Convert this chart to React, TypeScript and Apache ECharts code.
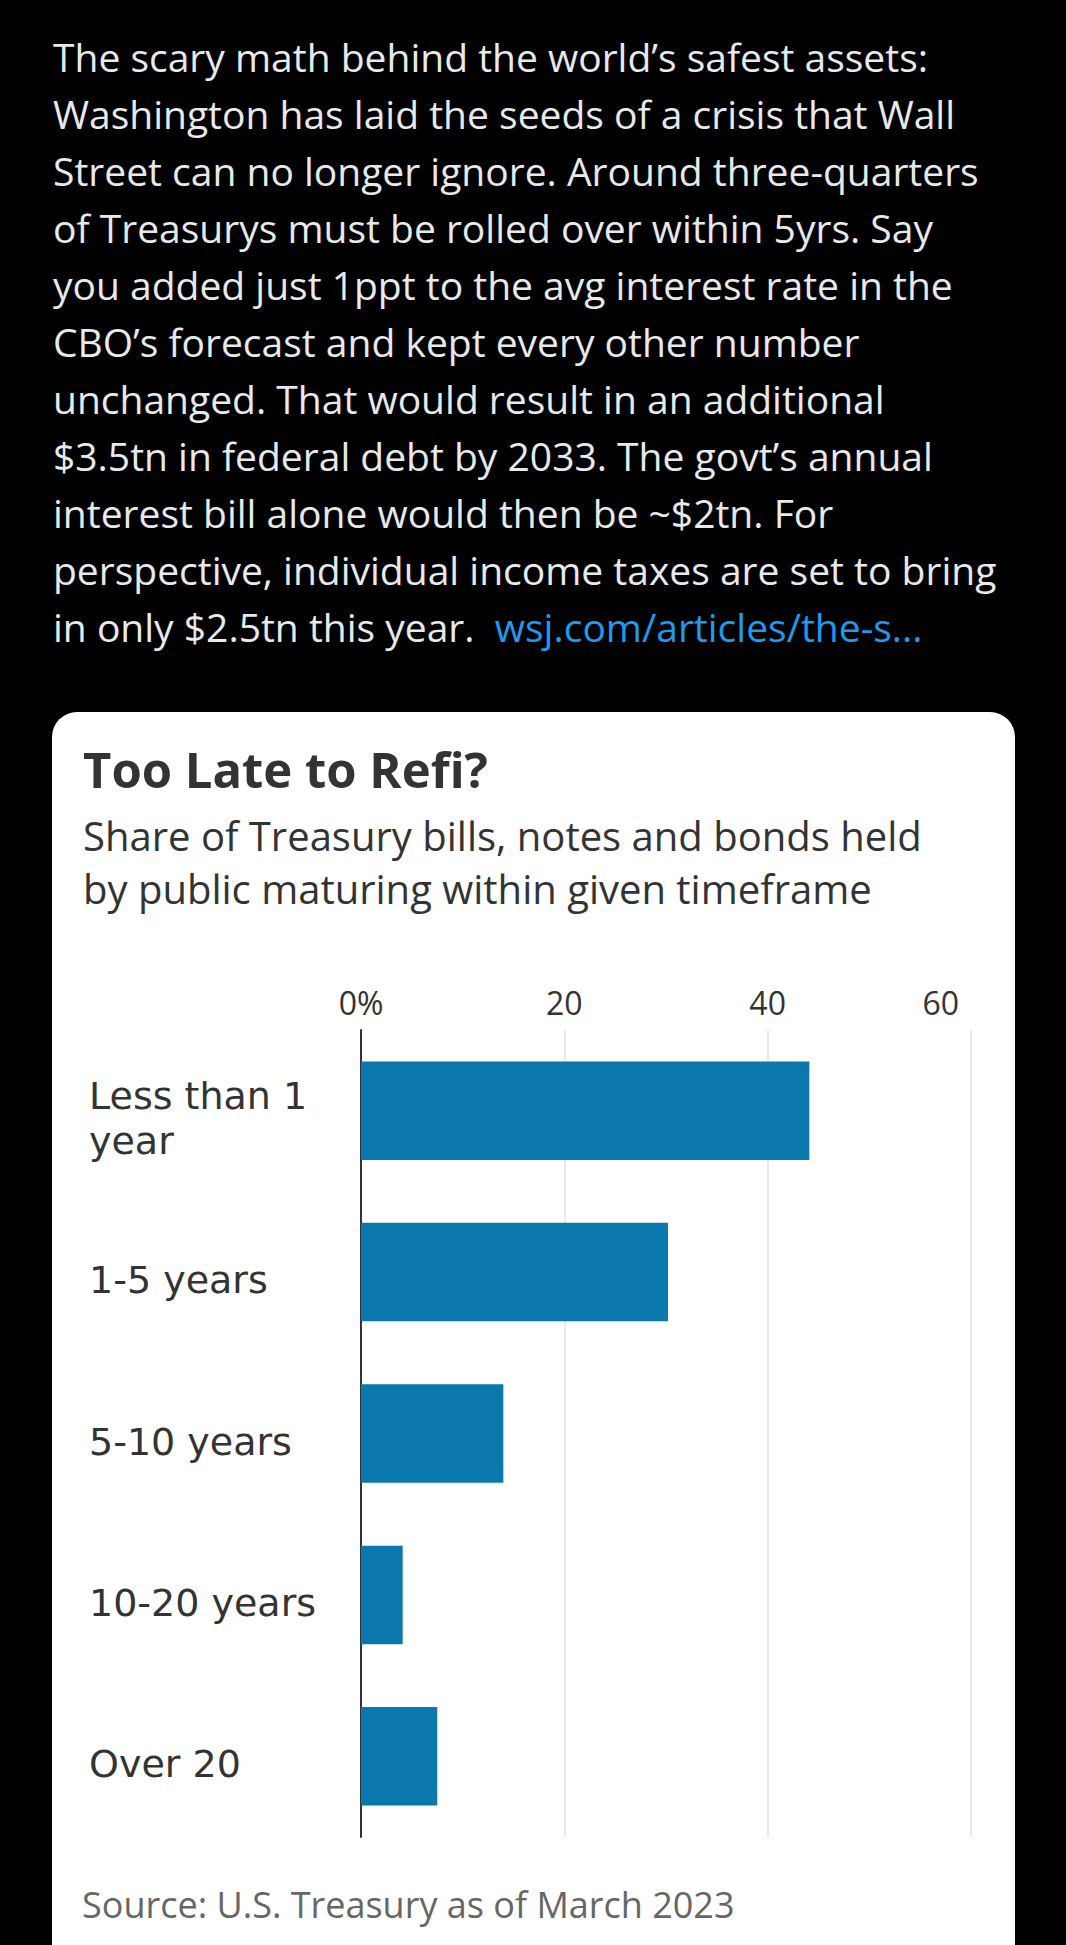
import React, { useEffect, useRef } from "react";
import * as echarts from "echarts";

const tweetLines = [
  "The scary math behind the world\u2019s safest assets:",
  "Washington has laid the seeds of a crisis that Wall",
  "Street can no longer ignore. Around three-quarters",
  "of Treasurys must be rolled over within 5yrs. Say",
  "you added just 1ppt to the avg interest rate in the",
  "CBO\u2019s forecast and kept every other number",
  "unchanged. That would result in an additional",
  "$3.5tn in federal debt by 2033. The govt\u2019s annual",
  "interest bill alone would then be ~$2tn. For",
  "perspective, individual income taxes are set to bring",
];
const tweetLast = "in only $2.5tn this year.  ";
const tweetLink = "wsj.com/articles/the-s...";

const title = "Too Late to Refi?";
const subtitleLines = [
  "Share of Treasury bills, notes and bonds held",
  "by public maturing within given timeframe",
];
const source = "Source: U.S. Treasury as of March 2023";

const categories = ["Less than 1\nyear", "1-5 years", "5-10 years", "10-20 years", "Over 20"];
const shares = [44.1, 30.2, 14.0, 4.1, 7.5];
const tickMin = 0;
const tickMax = 60;
const tickStep = 20;

const W = 1066;
const H = 1945;
const FONT = "'Open Sans', Roboto, sans-serif";
const LABEL_FONT = "'DejaVu Sans', 'Open Sans', sans-serif";

export default function App() {
  const ref = useRef<HTMLDivElement>(null);
  useEffect(() => {
    document.body.style.margin = "0";
    document.body.style.background = "#000";
    const chart = echarts.init(ref.current!, undefined, { renderer: "svg", width: W, height: H });
    const graphics: any[] = [];
    tweetLines.forEach((t, i) => {
      graphics.push({
        type: "text",
        x: 53,
        y: 56 + i * 57,
        style: { text: t, fill: "#e7e9ea", font: `39px ${FONT}`, verticalAlign: "middle" },
      });
    });
    graphics.push({
      type: "text",
      x: 53,
      y: 56 + 10 * 57,
      style: {
        text: `${tweetLast}{link|${tweetLink}}`,
        fill: "#e7e9ea",
        font: `39px ${FONT}`,
        verticalAlign: "middle",
        rich: { link: { fill: "#1d9bf0", font: `39px ${FONT}` } },
      },
    });
    graphics.push({
      type: "rect",
      shape: { x: 52, y: 712, width: 963, height: 1400, r: 25 },
      style: { fill: "#ffffff" },
      z: -10,
    });
    graphics.push({
      type: "text",
      x: 83,
      y: 769,
      style: { text: title, fill: "#333333", font: `bold 49px ${FONT}`, verticalAlign: "middle" },
    });
    graphics.push({
      type: "text",
      x: 83,
      y: 835.5 + 26.5,
      style: {
        text: subtitleLines.join("\n"),
        fill: "#333333",
        font: `40px ${FONT}`,
        lineHeight: 53,
        verticalAlign: "middle",
      },
    });
    graphics.push({
      type: "text",
      x: 82,
      y: 1904,
      style: { text: source, fill: "#666666", font: `36px ${FONT}`, verticalAlign: "middle" },
    });

    const yData = categories.map((c) =>
      c.indexOf("\n") >= 0
        ? { value: c, textStyle: { align: "left", verticalAlign: "middle" } }
        : c
    );

    const labelToken = { color: "#333333", fontFamily: LABEL_FONT, fontSize: 38, verticalAlign: "middle" };

    chart.setOption({
      animation: false,
      backgroundColor: "#000000",
      textStyle: { fontFamily: FONT },
      graphic: graphics,
      grid: {
        left: 361,
        right: W - 971,
        top: 1030,
        bottom: H - 1837,
        containLabel: false,
        outerBoundsMode: "none",
      },
      xAxis: {
        type: "value",
        position: "top",
        min: tickMin,
        max: tickMax,
        interval: tickStep,
        axisLine: { show: false },
        axisTick: { show: false },
        axisLabel: {
          color: "#333333",
          fontSize: 32,
          margin: 12,
          alignMaxLabel: "right",
          formatter: (v: number) =>
            v === 0 ? "0%" : v === tickMax ? `{m|${v}}` : String(v),
          rich: { m: { fontSize: 32, color: "#333333", padding: [0, 12, 0, 0] } },
        },
        splitLine: { show: true, lineStyle: { color: "#e3e3e3", width: 1.5 } },
      },
      yAxis: {
        type: "category",
        inverse: true,
        data: yData,
        axisLine: { show: true, lineStyle: { color: "#333333", width: 2 } },
        axisTick: { show: false },
        axisLabel: {
          color: "#333333",
          fontFamily: LABEL_FONT,
          fontSize: 38,
          lineHeight: 16,
          verticalAlign: "top",
          align: "left",
          margin: 272,
          formatter: (v: string) =>
            v.indexOf("\n") >= 0
              ? v
                  .split("\n")
                  .map((s, i) => `{${i === 0 ? "l1" : "l2"}|${s}}`)
                  .join("\n")
              : v,
          rich: {
            l1: { ...labelToken, lineHeight: 60 },
            l2: { ...labelToken, lineHeight: 30 },
          },
        },
      },
      series: [
        {
          type: "bar",
          data: shares,
          barCategoryGap: "39%",
          itemStyle: { color: "#0a78ad" },
        },
      ],
    });
    return () => chart.dispose();
  }, []);
  return <div ref={ref} style={{ width: W, height: H }} />;
}
